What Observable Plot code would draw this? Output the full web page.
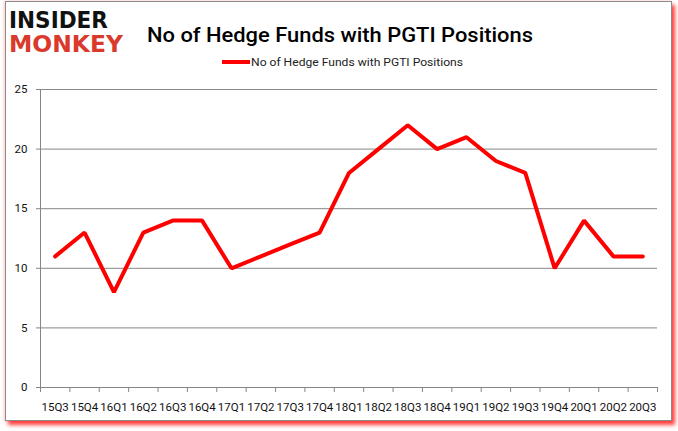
<!DOCTYPE html>
<html><head><meta charset="utf-8">
<script src="https://cdn.jsdelivr.net/npm/d3@7"></script>
<script src="https://cdn.jsdelivr.net/npm/@observablehq/plot@0.6"></script>
<style>
body{margin:0;background:#fff;}
#wrap{position:relative;width:678px;height:431px;overflow:hidden;background:#fff;}
#frame{position:absolute;left:5px;top:1px;width:665px;height:418px;border:1px solid #8a8a8a;box-shadow:3px 4px 4px rgba(255,0,0,0.75), -1px 0 3px rgba(255,120,120,0.4);background:#fff;}
#chart{position:absolute;left:0;top:0;}
#over{position:absolute;left:0;top:0;}
</style></head>
<body><div id="wrap"><div id="frame"></div><div id="chart"></div>
<svg id="over" width="678" height="431" xmlns="http://www.w3.org/2000/svg">
<text x="9" y="28" textLength="99" lengthAdjust="spacingAndGlyphs" font-family="DejaVu Sans" font-weight="bold" font-size="23" fill="#111">INSIDER</text>
<text x="9" y="52" textLength="114" lengthAdjust="spacingAndGlyphs" font-family="DejaVu Sans" font-weight="bold" font-size="23" fill="#d93a2b">MONKEY</text>
<text x="147" y="42" textLength="386" lengthAdjust="spacingAndGlyphs" font-family="Roboto" font-weight="500" font-size="21" fill="#000">No of Hedge Funds with PGTI Positions</text>
<line x1="222" y1="62" x2="250" y2="62" stroke="#ff0000" stroke-width="4"/>
<text x="251" y="66" textLength="212" lengthAdjust="spacingAndGlyphs" font-family="Roboto" font-size="11.5" fill="#222">No of Hedge Funds with PGTI Positions</text>
</svg></div>
<script>
const quarters = ["15Q3","15Q4","16Q1","16Q2","16Q3","16Q4","17Q1","17Q2","17Q3","17Q4","18Q1","18Q2","18Q3","18Q4","19Q1","19Q2","19Q3","19Q4","20Q1","20Q2","20Q3"];
const funds = [11,13,8,13,14,14,10,11,12,13,18,20,22,20,21,19,18,10,14,11,11];
const yTicks = [0,5,10,15,20,25];

const data = quarters.map((q,i)=>({q, i, v: funds[i]}));
const n = quarters.length;
const gray = "#868686";

const chart = Plot.plot({
  width: 678, height: 431,
  marginTop: 89, marginBottom: 44, marginLeft: 40, marginRight: 21,
  style: {background: "transparent", fontFamily: "Roboto, sans-serif", fontSize: "11px", color: "#111"},
  x: {type: "linear", domain: [0, n], axis: null},
  y: {domain: [0, 25], axis: null},
  marks: [
    Plot.gridY(yTicks.filter(d=>d>0), {stroke: gray, strokeOpacity: 1, strokeWidth: 1}),
    Plot.axisY(yTicks, {label: null, tickSize: 4, stroke: gray, tickPadding: 9, fontSize: 11.5, fill: "#111", tickFormat: d=>d}),
    Plot.ruleX([0], {stroke: gray, y1: 0, y2: 25}),
    Plot.ruleY([0], {stroke: gray}),
    Plot.axisX(d3.range(n+1), {label: null, tickSize: 5, stroke: gray, tickFormat: () => ""}),
    Plot.axisX(d3.range(n).map(i=>i+0.5), {label: null, tickSize: 0, tickPadding: 15, fontSize: 11.5, fill: "#111", tickFormat: d => quarters[Math.round(d-0.5)]}),
    Plot.line(data, {x: d=>d.i+0.5, y: "v", stroke: "#ff0000", strokeWidth: 4, strokeLinejoin: "miter"})
  ]
});
document.getElementById("chart").appendChild(chart);
</script></body></html>
